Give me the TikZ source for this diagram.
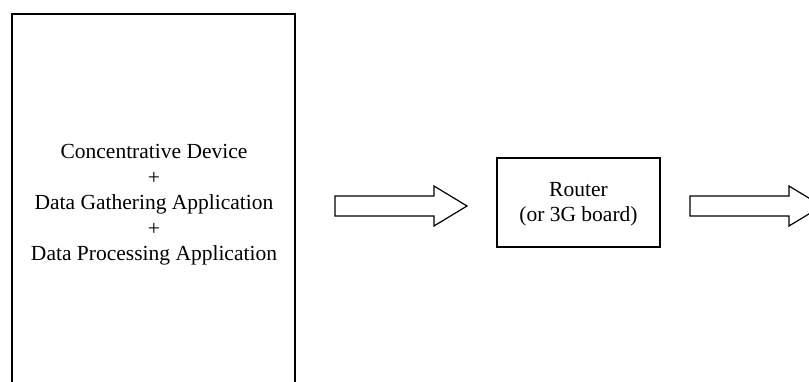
\documentclass[tikz,border=0pt]{standalone}
\usepackage{fontspec}
\setmainfont{Liberation Serif}
\begin{document}
\begin{tikzpicture}[x=1pt,y=-1pt,
  every node/.style={font=\fontsize{21.5}{25.5}\selectfont, align=center, inner sep=0pt},
  blockarrow/.style={draw=black, line width=1.2pt, fill=white, line join=miter},
  framebox/.style={draw=black, line width=1.3pt}]
  \useasboundingbox (0,0) rectangle (809,381);
  \clip (0,0) rectangle (809,381);

  % main device box (runs past the lower edge)
  \draw[framebox, line width=2pt] (12,14) rectangle (295,400);
  \node (dev) at (154,205) {Concentrative Device\\+\\Data Gathering Application\\+\\Data Processing Application};

  % router box
  \draw[framebox] (497,158) rectangle (660,247);
  \node (router) at (578.5,204) {Router\\(or 3G board)};

  % block arrows
  \coordinate (a1) at (335,206);
  \draw[blockarrow] (a1) ++(0,-10) -- ++(99,0) -- ++(0,-10) -- (467,206)
     -- (434,226) -- ++(0,-10) -- (335,216) -- cycle;
  \coordinate (a2) at (690,206);
  \draw[blockarrow] (a2) ++(0,-10) -- ++(99,0) -- ++(0,-10) -- (822,206)
     -- (789,226) -- ++(0,-10) -- (690,216) -- cycle;
\end{tikzpicture}
\end{document}
